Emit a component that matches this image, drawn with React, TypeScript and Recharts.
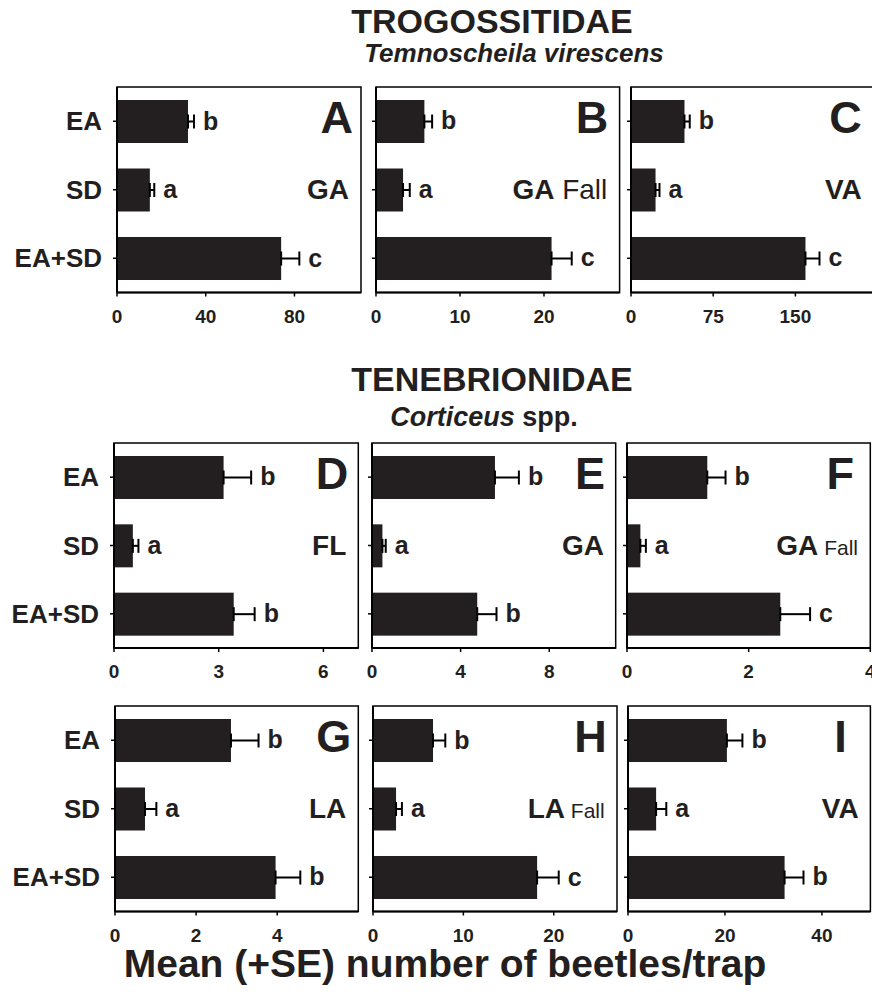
import React from 'react';
import { BarChart, Bar, XAxis, YAxis, ErrorBar, ReferenceArea } from 'recharts';

const FONT = '"Liberation Sans", Arial, Helvetica, sans-serif';
const INK = '#231f20';

// ---- data ----
const categories = ['EA', 'SD', 'EA+SD'];

const meanA = [32.0, 14.8, 74.0];
const seA = [2.7, 2.0, 8.2];
const sigA = ['b', 'a', 'c'];
const ticksA = [0, 40, 80];

const meanB = [5.76, 3.22, 20.9];
const seB = [0.92, 0.8, 2.4];
const sigB = ['b', 'a', 'c'];
const ticksB = [0, 10, 20];

const meanC = [48.8, 22.4, 159.2];
const seC = [4.8, 3.6, 12.8];
const sigC = ['b', 'a', 'c'];
const ticksC = [0, 75, 150];

const meanD = [3.14, 0.54, 3.43];
const seD = [0.79, 0.16, 0.6];
const sigD = ['b', 'a', 'b'];
const ticksD = [0, 3, 6];

const meanE = [5.55, 0.47, 4.75];
const seE = [1.08, 0.15, 0.87];
const sigE = ['b', 'a', 'b'];
const ticksE = [0, 4, 8];

const meanF = [1.32, 0.22, 2.52];
const seF = [0.3, 0.09, 0.49];
const sigF = ['b', 'a', 'c'];
const ticksF = [0, 2, 4];

const meanG = [2.86, 0.74, 3.96];
const seG = [0.68, 0.28, 0.61];
const sigG = ['b', 'a', 'b'];
const ticksG = [0, 2, 4];

const meanH = [6.64, 2.55, 18.16];
const seH = [1.36, 0.65, 2.39];
const sigH = ['b', 'a', 'c'];
const ticksH = [0, 10, 20];

const meanI = [20.4, 5.8, 32.3];
const seI = [3.2, 2.1, 3.9];
const sigI = ['b', 'a', 'b'];
const ticksI = [0, 20, 40];

const title1 = 'TROGOSSITIDAE';
const subtitle1 = 'Temnoscheila virescens';
const title2 = 'TENEBRIONIDAE';
const subtitle2Italic = 'Corticeus';
const subtitle2Rest = ' spp.';
const xLabel = 'Mean (+SE) number of beetles/trap';

// ---- panel configuration (layout kept separate from the values) ----
const panels = [
  { key: 'A', means: meanA, se: seA, sig: sigA, ticks: ticksA, max: 110, site: 'GA', suffix: '', suffixSize: 0, showY: true, box: { x0: 117, x1: 361, y0: 87, y1: 292.5 }, lx: 8 },
  { key: 'B', means: meanB, se: seB, sig: sigB, ticks: ticksB, max: 29, site: 'GA', suffix: ' Fall', suffixSize: 28, showY: false, box: { x0: 375.7, x1: 619.3, y0: 87, y1: 292.5 }, lx: 11 },
  { key: 'C', means: meanC, se: seC, sig: sigC, ticks: ticksC, max: 222, site: 'VA', suffix: '', suffixSize: 0, showY: false, box: { x0: 630.5, x1: 873.8, y0: 87, y1: 292.5 }, lx: 12 },
  { key: 'D', means: meanD, se: seD, sig: sigD, ticks: ticksD, max: 7, site: 'FL', suffix: '', suffixSize: 0, showY: true, box: { x0: 114, x1: 358.3, y0: 443, y1: 648 }, lx: 10 },
  { key: 'E', means: meanE, se: seE, sig: sigE, ticks: ticksE, max: 11, site: 'GA', suffix: '', suffixSize: 0, showY: false, box: { x0: 372.3, x1: 616, y0: 443, y1: 648 }, lx: 11 },
  { key: 'F', means: meanF, se: seF, sig: sigF, ticks: ticksF, max: 4, site: 'GA', suffix: ' Fall', suffixSize: 21, showY: false, box: { x0: 626.7, x1: 870, y0: 443, y1: 648 }, lx: 16 },
  { key: 'G', means: meanG, se: seG, sig: sigG, ticks: ticksG, max: 6, site: 'LA', suffix: '', suffixSize: 0, showY: true, box: { x0: 115, x1: 358.3, y0: 705.5, y1: 911 }, lx: 7 },
  { key: 'H', means: meanH, se: seH, sig: sigH, ticks: ticksH, max: 27, site: 'LA', suffix: ' Fall', suffixSize: 21, showY: false, box: { x0: 372.7, x1: 616.7, y0: 705.5, y1: 911 }, lx: 10 },
  { key: 'I', means: meanI, se: seI, sig: sigI, ticks: ticksI, max: 50, site: 'VA', suffix: '', suffixSize: 0, showY: false, box: { x0: 628.3, x1: 870.7, y0: 705.5, y1: 911 }, lx: 24 },
];

function makeShape() {
  return (props: any) => {
    const { x, y, width, height, payload, fill } = props;
    const m = payload.mean;
    const s = payload.se;
    const errEnd = x + (width * (m + s)) / m;
    return (
      <g>
        <rect x={x} y={y} width={width} height={height} fill={fill} />
        <text
          x={errEnd + 9}
          y={y + height / 2 + 8}
          fill={INK}
          fontSize={25}
          fontWeight="bold"
          fontFamily={FONT}
        >
          {payload.sig}
        </text>
      </g>
    );
  };
}

function Panel({ p }: { p: any }) {
  const { x0, x1, y0, y1 } = p.box;
  const MT = 6;
  const XH = 46;
  const MR = 6;
  const YW = p.showY ? x0 : 14;
  const left = x0 - YW;
  const width = YW + (x1 - x0) + MR;
  const height = MT + (y1 - y0) + XH;
  const data = categories.map((c, i) => ({
    cat: c,
    mean: p.means[i],
    se: p.se[i],
    err: [0, p.se[i]],
    sig: p.sig[i],
  }));
  return (
    <div style={{ position: 'absolute', left, top: y0 - MT, width, height }}>
      <BarChart
        layout="vertical"
        width={width}
        height={height}
        data={data}
        margin={{ top: MT, right: MR, bottom: 0, left: 0 }}
      >
        <XAxis
          type="number"
          domain={[0, p.max]}
          ticks={p.ticks}
          height={XH}
          tickSize={4}
          tickMargin={13}
          interval={0}
          axisLine={{ stroke: '#000', strokeWidth: 2 }}
          tickLine={{ stroke: '#000', strokeWidth: 1.5 }}
          tick={{ fill: INK, fontSize: 19, fontWeight: 'bold', fontFamily: FONT }}
        />
        <YAxis
          type="category"
          dataKey="cat"
          width={YW}
          tickSize={4}
          tickMargin={11}
          interval={0}
          axisLine={{ stroke: '#000', strokeWidth: 2 }}
          tickLine={{ stroke: '#000', strokeWidth: 1.5 }}
          tickFormatter={p.showY ? undefined : () => ''}
          tick={{ fill: INK, fontSize: 26, fontWeight: 'bold', fontFamily: FONT }}
        />
        <ReferenceArea
          x1={0}
          x2={p.max}
          fill="none"
          fillOpacity={0}
          stroke="#000"
          strokeWidth={1.5}
          ifOverflow="visible"
        />
        <Bar dataKey="mean" fill={INK} barSize={43} isAnimationActive={false} shape={makeShape()}>
          <ErrorBar dataKey="err" direction="x" width={7} stroke="#000" strokeWidth={2} isAnimationActive={false} />
        </Bar>
      </BarChart>
    </div>
  );
}

export default function App() {
  return (
    <div
      style={{
        position: 'absolute',
        left: 0,
        top: 0,
        width: 872,
        height: 994,
        overflow: 'hidden',
        background: '#fff',
        fontFamily: FONT,
      }}
    >
      {panels.map((p) => (
        <Panel key={p.key} p={p} />
      ))}
      <svg
        width={872}
        height={994}
        style={{ position: 'absolute', left: 0, top: 0, pointerEvents: 'none' }}
        fontFamily={FONT}
      >
        <text x={492} y={33} textAnchor="middle" fontSize={34} fontWeight="bold" fill={INK}>
          {title1}
        </text>
        <text x={514} y={62} textAnchor="middle" fontSize={26} fontWeight="bold" fontStyle="italic" fill={INK}>
          {subtitle1}
        </text>
        <text x={492} y={391} textAnchor="middle" fontSize={34} fontWeight="bold" fill={INK}>
          {title2}
        </text>
        <text x={484} y={426} textAnchor="middle" fontSize={27} fontWeight="bold" fill={INK}>
          <tspan fontStyle="italic">{subtitle2Italic}</tspan>
          <tspan>{subtitle2Rest}</tspan>
        </text>
        <text x={445} y={977} textAnchor="middle" fontSize={39} fontWeight="bold" fill={INK}>
          {xLabel}
        </text>
        {panels.map((p) => {
          const { x1, y0 } = p.box;
          return (
            <g key={'lab' + p.key}>
              <text x={x1 - p.lx} y={y0 + 46} textAnchor="end" fontSize={45} fontWeight="bold" fill={INK}>
                {p.key}
              </text>
              <text x={x1 - 12} y={y0 + 112} textAnchor="end" fontSize={28} fontWeight="bold" fill={INK}>
                {p.site}
                {p.suffix ? (
                  <tspan fontWeight="normal" fontSize={p.suffixSize}>
                    {p.suffix}
                  </tspan>
                ) : null}
              </text>
            </g>
          );
        })}
      </svg>
    </div>
  );
}
